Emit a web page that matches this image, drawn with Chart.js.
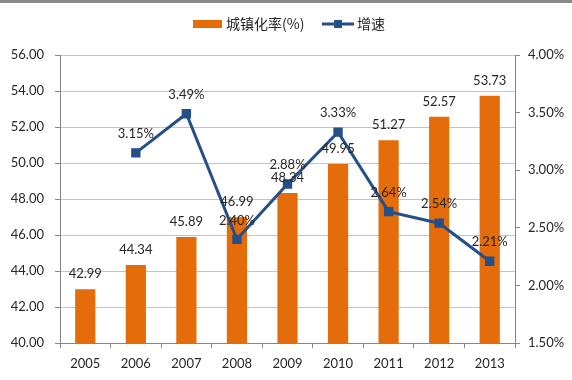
<!DOCTYPE html>
<html>
<head>
<meta charset="utf-8">
<script src="https://cdn.jsdelivr.net/npm/chart.js@4.4.1/dist/chart.umd.min.js"></script>
<style>
    body { margin: 0; background: #ffffff; }
    #wrap { position: relative; width: 572px; height: 380px; }
    #top-bar { position: absolute; left: 0; top: 0; width: 572px; height: 3px; background: #8a8a8a; }
</style>
</head>
<body>
<div id="wrap">
    <canvas id="chart" width="572" height="380"></canvas>
    <div id="top-bar"></div>
</div>
<script>
const years = ["2005", "2006", "2007", "2008", "2009", "2010", "2011", "2012", "2013"];
const urbanRate = [42.99, 44.34, 45.89, 46.99, 48.34, 49.95, 51.27, 52.57, 53.73];
const growthRate = [null, 3.15, 3.49, 2.40, 2.88, 3.33, 2.64, 2.54, 2.21];
const leftTicks = { min: 40, max: 56, step: 2 };
const rightTicks = { min: 1.5, max: 4.0, step: 0.5 };
const seriesNames = ["城镇化率(%)", "增速"];

const ORANGE = "#e46c0a";
const BLUE = "#254f88";
const TEXT = "#262626";
const AXIS = "#868686";
const GRID = "#c4c4c4";
const LABEL_FONT = "13px Lato, 'Liberation Sans', sans-serif";
const CJK_FONT = "14px 'Noto Sans CJK SC', sans-serif";

const labelPlugin = {
    id: "valueLabels",
    afterDatasetsDraw(chart) {
        const ctx = chart.ctx;
        ctx.save();
        ctx.font = LABEL_FONT;
        ctx.fillStyle = TEXT;
        ctx.textAlign = "center";
        ctx.textBaseline = "middle";

        chart.getDatasetMeta(0).data.forEach((bar, i) => {
            ctx.fillText(urbanRate[i].toFixed(2), bar.x, bar.y - 15);
        });
        chart.getDatasetMeta(1).data.forEach((pt, i) => {
            if (growthRate[i] === null) return;
            ctx.fillText(growthRate[i].toFixed(2) + "%", pt.x, pt.y - 19);
        });
        ctx.restore();
    },
};

const legendPlugin = {
    id: "customLegend",
    afterDraw(chart) {
        const ctx = chart.ctx;
        ctx.save();
        const cy = 24;
        ctx.fillStyle = ORANGE;
        ctx.fillRect(193, cy - 4, 29, 8);

        ctx.font = CJK_FONT;
        ctx.fillStyle = TEXT;
        ctx.textBaseline = "middle";
        ctx.textAlign = "left";
        ctx.fillText(seriesNames[0], 226, cy);

        ctx.strokeStyle = BLUE;
        ctx.lineWidth = 3;
        ctx.beginPath();
        ctx.moveTo(322, cy);
        ctx.lineTo(354, cy);
        ctx.stroke();
        ctx.fillStyle = BLUE;
        ctx.fillRect(334, cy - 4, 8, 8);

        ctx.fillStyle = TEXT;
        ctx.fillText(seriesNames[1], 357, cy);
        ctx.restore();
    },
};

new Chart(document.getElementById("chart"), {
    data: {
        labels: years,
        datasets: [
            {
                type: "bar",
                label: seriesNames[0],
                data: urbanRate,
                yAxisID: "y",
                backgroundColor: ORANGE,
                barPercentage: 0.4,
                categoryPercentage: 1.0,
                order: 2,
            },
            {
                type: "line",
                label: seriesNames[1],
                data: growthRate,
                yAxisID: "y1",
                borderColor: BLUE,
                backgroundColor: BLUE,
                borderWidth: 3,
                pointStyle: "rect",
                pointRadius: 4.5,
                pointHoverRadius: 4.5,
                tension: 0,
                spanGaps: false,
                order: 1,
            },
        ],
    },
    options: {
        responsive: false,
        animation: false,
        layout: { padding: { top: 55, left: 0, right: 0, bottom: 0 } },
        plugins: {
            legend: { display: false },
            tooltip: { enabled: false },
        },
        scales: {
            x: {
                offset: true,
                grid: {
                    offset: true,
                    drawOnChartArea: false,
                    drawTicks: true,
                    tickLength: 5,
                    tickColor: AXIS,
                },
                border: { display: true, color: AXIS, width: 1 },
                ticks: {
                    color: TEXT,
                    font: { family: "Lato, 'Liberation Sans', sans-serif", size: 13 },
                    padding: 8,
                    maxRotation: 0,
                },
                afterFit: (scale) => { scale.height = 37; },
            },
            y: {
                position: "left",
                min: leftTicks.min,
                max: leftTicks.max,
                grid: {
                    color: GRID,
                    tickLength: 5,
                    tickColor: AXIS,
                },
                border: { display: true, color: AXIS, width: 1 },
                ticks: {
                    stepSize: leftTicks.step,
                    color: TEXT,
                    font: { family: "Lato, 'Liberation Sans', sans-serif", size: 13 },
                    padding: 11,
                    callback: (v) => Number(v).toFixed(2),
                },
                afterFit: (scale) => { scale.width = 60; },
            },
            y1: {
                position: "right",
                min: rightTicks.min,
                max: rightTicks.max,
                grid: {
                    drawOnChartArea: false,
                    tickLength: 5,
                    tickColor: AXIS,
                },
                border: { display: true, color: AXIS, width: 1 },
                ticks: {
                    stepSize: rightTicks.step,
                    color: TEXT,
                    font: { family: "Lato, 'Liberation Sans', sans-serif", size: 13 },
                    padding: 8,
                    callback: (v) => Number(v).toFixed(2) + "%",
                },
                afterFit: (scale) => { scale.width = 57; },
            },
        },
    },
    plugins: [labelPlugin, legendPlugin],
});
</script>
</body>
</html>
